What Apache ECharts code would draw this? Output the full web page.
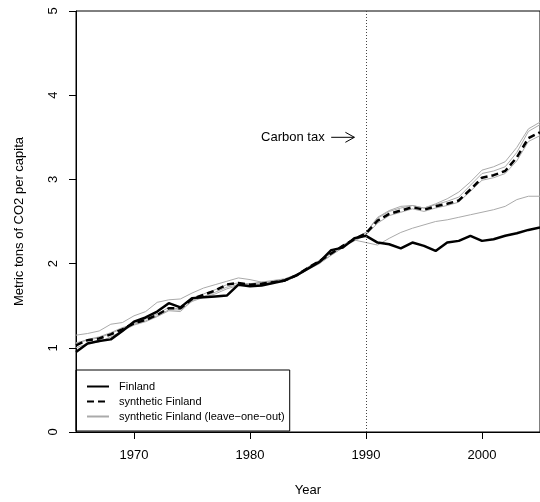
<!DOCTYPE html>
<html lang="en">
<head>
  <meta charset="UTF-8">
  <title>Finland CO2</title>
  <script src="https://cdn.jsdelivr.net/npm/echarts@6/dist/echarts.min.js"></script>
  <style>
    html, body { margin: 0; padding: 0; background: #fff; }
    #chart { width: 540px; height: 502px; }
  </style>
</head>
<body>
  <div id="chart"></div>
  <script>
    // data
    const years = [1965, 1966, 1967, 1968, 1969, 1970, 1971, 1972, 1973, 1974,
      1975, 1976, 1977, 1978, 1979, 1980, 1981, 1982, 1983, 1984,
      1985, 1986, 1987, 1988, 1989, 1990, 1991, 1992, 1993, 1994,
      1995, 1996, 1997, 1998, 1999, 2000, 2001, 2002, 2003, 2004, 2005]

    const finland = [0.95, 1.05, 1.08, 1.10, 1.20, 1.31, 1.36, 1.43, 1.53, 1.48,
      1.59, 1.60, 1.61, 1.62, 1.75, 1.73, 1.74, 1.77, 1.80, 1.86,
      1.94, 2.02, 2.16, 2.19, 2.30, 2.33, 2.25, 2.23, 2.18, 2.25,
      2.21, 2.15, 2.25, 2.27, 2.33, 2.27, 2.29, 2.33, 2.36, 2.40, 2.43]

    const synthFinland = [1.03, 1.09, 1.11, 1.16, 1.22, 1.29, 1.33, 1.39, 1.47, 1.47,
      1.58, 1.63, 1.68, 1.75, 1.77, 1.75, 1.76, 1.78, 1.80, 1.86,
      1.95, 2.03, 2.12, 2.21, 2.29, 2.36, 2.51, 2.59, 2.63, 2.67,
      2.64, 2.68, 2.71, 2.75, 2.88, 3.02, 3.05, 3.10, 3.26, 3.49, 3.56]

    // leave-one-out runs
    const looHigh = [1.15, 1.17, 1.20, 1.28, 1.30, 1.38, 1.43, 1.54, 1.57, 1.58,
      1.65, 1.71, 1.75, 1.79, 1.83, 1.81, 1.78, 1.78, 1.80, 1.85,
      1.93, 2.00, 2.10, 2.19, 2.28, 2.37, 2.55, 2.63, 2.68, 2.69,
      2.66, 2.71, 2.77, 2.85, 2.97, 3.11, 3.15, 3.21, 3.38, 3.60, 3.68]
    const looMid = [1.06, 1.09, 1.12, 1.17, 1.23, 1.29, 1.34, 1.40, 1.48, 1.46,
      1.58, 1.64, 1.69, 1.75, 1.77, 1.76, 1.77, 1.79, 1.81, 1.87,
      1.96, 2.04, 2.13, 2.22, 2.30, 2.37, 2.54, 2.62, 2.66, 2.69,
      2.66, 2.70, 2.74, 2.79, 2.93, 3.07, 3.10, 3.15, 3.32, 3.57, 3.65]
    const looLow = [1.00, 1.05, 1.07, 1.13, 1.20, 1.27, 1.31, 1.37, 1.44, 1.43,
      1.56, 1.61, 1.66, 1.72, 1.75, 1.74, 1.75, 1.77, 1.79, 1.85,
      1.94, 2.01, 2.10, 2.19, 2.27, 2.34, 2.48, 2.57, 2.61, 2.65,
      2.62, 2.66, 2.69, 2.73, 2.86, 2.99, 3.02, 3.07, 3.22, 3.45, 3.52]
    const looAlt = [1.05, 1.10, 1.13, 1.18, 1.24, 1.28, 1.32, 1.38, 1.45, 1.45,
      1.55, 1.60, 1.64, 1.70, 1.74, 1.76, 1.78, 1.80, 1.82, 1.87,
      1.95, 2.03, 2.12, 2.20, 2.28, 2.25, 2.22, 2.30, 2.37, 2.42,
      2.46, 2.50, 2.52, 2.55, 2.58, 2.61, 2.64, 2.68, 2.76, 2.80, 2.80]

    const xTicks = [1970, 1980, 1990, 2000]
    const treatYear = 1990

    const FONT = '"Liberation Sans", Arial, Helvetica, sans-serif'
    const LOO_NAME = 'synthetic Finland (leave\u2212one\u2212out)'
    const GRAY = '#aaaaaa'

    function pairs(vals) {
      return years.map((y, i) => [y, vals[i]])
    }

    function grayLine(vals) {
      return {
        name: LOO_NAME,
        type: 'line',
        data: pairs(vals),
        symbol: 'none',
        silent: true,
        itemStyle: { color: GRAY },
        lineStyle: { color: GRAY, width: 1 }
      }
    }

    let chart = echarts.init(document.getElementById('chart'))

    let option = {
      animation: false,
      textStyle: { fontFamily: FONT },
      grid: {
        left: 76, top: 11, right: -8, bottom: 68,
        show: true,
        borderColor: '#000',
        borderWidth: 1
      },
      legend: {
        orient: 'vertical',
        left: 76,
        top: 370,
        padding: [11, 5, 9, 10],
        itemGap: 4,
        itemWidth: 22,
        itemHeight: 12,
        borderColor: '#000',
        borderWidth: 1,
        selectedMode: false,
        itemStyle: { opacity: 0 },
        textStyle: { fontSize: 11, color: '#000', fontFamily: FONT, padding: [0, 0, 0, 5] },
        data: ['Finland', 'synthetic Finland', LOO_NAME]
      },
      xAxis: {
        type: 'value',
        min: 1965,
        max: 2005,
        name: 'Year',
        nameLocation: 'middle',
        nameGap: 52,
        nameTextStyle: { fontSize: 13, color: '#000' },
        axisLine: { show: true, lineStyle: { color: '#000', width: 1 } },
        axisTick: { show: true, length: 7, lineStyle: { color: '#000' }, customValues: xTicks },
        axisLabel: {
          fontSize: 13, color: '#000', margin: 17, customValues: xTicks,
          formatter: function (v) { return String(v) }
        },
        splitLine: { show: false }
      },
      yAxis: {
        type: 'value',
        min: 0,
        max: 5,
        interval: 1,
        name: 'Metric tons of CO2 per capita',
        nameLocation: 'middle',
        nameGap: 50,
        nameTextStyle: { fontSize: 13, color: '#000' },
        axisLine: { show: true, lineStyle: { color: '#000', width: 1 } },
        axisTick: { show: true, length: 7, lineStyle: { color: '#000' } },
        axisLabel: { fontSize: 13, color: '#000', rotate: 90, margin: 16 },
        splitLine: { show: false }
      },
      series: [
        grayLine(looHigh),
        grayLine(looMid),
        grayLine(looLow),
        grayLine(looAlt),
        {
          name: 'synthetic Finland',
          type: 'line',
          data: pairs(synthFinland),
          symbol: 'none',
          itemStyle: { color: '#000' },
          lineStyle: { color: '#000', width: 2.5, type: [7, 4] }
        },
        {
          name: 'Finland',
          type: 'line',
          data: pairs(finland),
          symbol: 'none',
          itemStyle: { color: '#000' },
          lineStyle: { color: '#000', width: 2.5 },
          markLine: {
            silent: true,
            symbol: 'none',
            label: { show: false },
            lineStyle: { color: '#444', width: 1, type: [1, 2] },
            data: [{ xAxis: treatYear }]
          }
        }
      ]
    }

    chart.setOption(option)

    // "Carbon tax ->" note, placed in data units
    const noteY = 3.5
    const noteTextX = 1983.7
    const arrowFrom = 1987
    const arrowTo = 1989
    let t = chart.convertToPixel({ gridIndex: 0 }, [noteTextX, noteY])
    let a0 = chart.convertToPixel({ gridIndex: 0 }, [arrowFrom, noteY])
    let a1 = chart.convertToPixel({ gridIndex: 0 }, [arrowTo, noteY])

    chart.setOption({
      graphic: [
        {
          type: 'text',
          x: t[0], y: t[1],
          style: { text: 'Carbon tax', fill: '#000', font: '13px ' + FONT, align: 'center', verticalAlign: 'middle' }
        },
        {
          type: 'line',
          shape: { x1: a0[0], y1: a0[1], x2: a1[0], y2: a1[1] },
          style: { stroke: '#000', lineWidth: 1 }
        },
        {
          type: 'polyline',
          shape: { points: [[a1[0] - 9, a1[1] - 5], [a1[0], a1[1]], [a1[0] - 9, a1[1] + 5]] },
          style: { stroke: '#000', lineWidth: 1, fill: null }
        }
      ]
    })

    window.addEventListener('resize', function () {
      chart.resize()
    })
  </script>
</body>
</html>
